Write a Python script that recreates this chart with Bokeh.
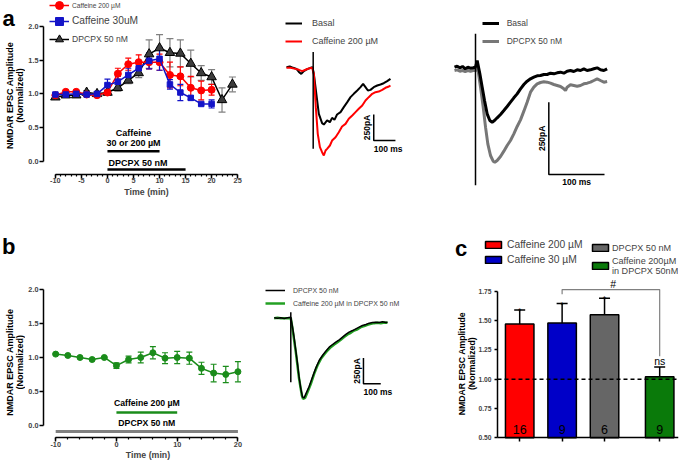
import numpy as np
from bokeh.plotting import figure
from bokeh.models import (ColumnDataSource, Whisker, TeeHead, Legend, LegendItem,
                          FixedTicker, PrintfTickFormatter)
from bokeh.layouts import row, column
from bokeh.embed import file_html
from bokeh.resources import INLINE
from bokeh.core.properties import value

FONT = "Liberation Sans"

# ---------------- panel a : time course ----------------
time_a = [-10, -8, -6, -4, -2, 0, 2, 4, 6, 8, 10, 12, 14, 16, 18, 20]
caf200_mean = [0.98, 1.03, 1.03, 0.99, 0.98, 1.02, 1.30, 1.44, 1.47, 1.47, 1.47, 1.28, 1.26, 1.09, 1.05, 1.06]
caf200_sem = [0.02, 0.02, 0.02, 0.02, 0.02, 0.03, 0.08, 0.09, 0.11, 0.10, 0.12, 0.19, 0.14, 0.17, 0.14, 0.08]
caf30_mean = [0.99, 0.99, 1.00, 0.99, 1.00, 1.13, 1.18, 1.28, 1.38, 1.49, 1.52, 1.14, 1.02, 0.94, 0.85, 0.85]
caf30_sem = [0.02, 0.02, 0.02, 0.02, 0.02, 0.09, 0.08, 0.10, 0.10, 0.12, 0.17, 0.07, 0.12, 0.03, 0.02, 0.06]
time_dpcpx = [-10, -8, -6, -4, -2, 0, 2, 4, 6, 8, 10, 12, 14, 16, 18, 20, 22, 24]
dpcpx_mean = [0.95, 0.98, 0.98, 1.02, 1.00, 1.02, 1.09, 1.20, 1.31, 1.59, 1.68, 1.61, 1.60, 1.45, 1.31, 1.25, 0.91, 1.14]
dpcpx_sem = [0.03, 0.03, 0.03, 0.03, 0.03, 0.04, 0.05, 0.05, 0.07, 0.21, 0.20, 0.21, 0.20, 0.20, 0.11, 0.11, 0.18, 0.11]
caffeine_window_a = [0, 10]
dpcpx_window_a = [0, 15]

# ---------------- panel a : example traces (ms, pA) ----------------
trA1_basal_t = [-123, -108, -92, -77, -65, -55, -43, -28, -12, -3, 3, 26, 41, 49, 64, 77, 87, 98, 110, 126,
                141, 157, 172, 187, 203, 218, 230, 241, 252, 264, 279, 295, 310, 325, 341, 356]
trA1_basal_i = [0, 7, -6, -16, -48, -64, -38, -19, -6, 0, -64, -448, -538, -551, -512, -529, -487, -506, -455, -432,
                -384, -336, -288, -256, -224, -192, -160, -192, -224, -218, -192, -176, -166, -154, -134, -112]
trA1_caf_t = [-123, -105, -82, -66, -51, -35, -20, -5, 3, 12, 21, 31, 41, 49, 57, 64, 77, 87, 103, 118,
              133, 149, 164, 180, 195, 210, 226, 241, 256, 272, 287, 302, 318, 333, 349, 356]
trA1_caf_i = [-6, -6, -16, -25, -38, -25, -13, -6, -64, -384, -641, -769, -817, -849, -801, -785, -753, -705, -673, -625,
              -570, -545, -496, -464, -432, -400, -368, -320, -288, -256, -240, -234, -218, -198, -186, -176]
trA1_artifact_i = [145, -785]

trA2_basal_t = [-37.7, -32.9, -28.1, -23.3, -18.5, -13.8, -9.0, -4.2, 0, 3.0, 7.8, 12.0, 16.2, 20.9, 25.7, 29.9,
                34.1, 38.9, 44.9, 50.9, 56.8, 62.8, 68.8, 74.8, 80.8, 86.8, 92.7, 98.7, 104.7, 110.7, 116.7,
                122.7, 128.6, 134.6, 140.6, 146.6, 152.6, 158.6, 164.5, 170.5, 176.5, 182.5, 188.5, 194.5,
                200.4, 206.4, 212.4, 218.4, 224.4, 230.4, 236.3]
trA2_basal_i = [5.6, 9.1, 3.4, 8.0, 0, 5.6, 2.2, 3.4, 5.6, 28.7, -17.4, -63.5, -109.6, -155.7, -178.8, -184.6,
                -178.8, -169.5, -158.0, -144.2, -130.4, -115.4, -100.4, -86.6, -69.3, -54.3, -42.8, -34.7, -28.9,
                -24.3, -23.2, -19.7, -19.7, -15.1, -17.4, -13.9, -11.7, -15.1, -8.2, -5.9, -9.3, -3.6, -5.9, 0,
                -5.9, -3.6, 0, 3.4, -3.6, -5.9, 0]
trA2_dpcpx_t = [-37.7, -32.9, -28.1, -23.3, -18.5, -13.8, -9.0, -4.2, 0, 4.2, 9.0, 13.8, 18.0, 22.1, 26.9, 31.7,
                34.7, 38.9, 44.9, 50.9, 56.8, 62.8, 68.8, 74.8, 80.8, 86.8, 92.7, 98.7, 104.7, 110.7, 116.7,
                122.7, 128.6, 134.6, 140.6, 146.6, 152.6, 158.6, 161.6, 164.5, 170.5, 176.5, 182.5, 188.5,
                194.5, 200.4, 206.4, 212.4, 218.4, 224.4, 230.4, 236.3]
trA2_dpcpx_i = [-5.9, -3.6, -8.2, -5.9, -9.3, -5.9, -8.2, -5.9, -5.9, 0, -63.5, -132.7, -201.8, -259.5, -299.8,
                -319.4, -322.9, -317.1, -303.3, -284.8, -265.2, -247.9, -224.9, -199.5, -176.5, -146.5, -115.4,
                -80.8, -63.5, -52.0, -47.4, -45.1, -46.2, -49.7, -54.3, -57.7, -61.2, -69.3, -75.0, -63.5, -55.4,
                -57.7, -60.1, -57.7, -52.0, -49.7, -46.2, -40.5, -34.7, -40.5, -46.2, -43.9]
trA2_artifact_i = [121, -403]

# ---------------- panel b : time course ----------------
time_b = [-10, -8, -6, -4, -2, 0, 2, 4, 6, 8, 10, 12, 14, 16, 18, 20]
caf_in_dpcpx_mean = [1.05, 1.03, 1.00, 0.97, 1.00, 0.88, 0.97, 1.00, 1.07, 0.99, 1.00, 0.99, 0.84, 0.77, 0.75, 0.79]
caf_in_dpcpx_sem = [0.01, 0.01, 0.01, 0.01, 0.01, 0.04, 0.05, 0.08, 0.09, 0.08, 0.09, 0.09, 0.09, 0.13, 0.12, 0.15]
caffeine_window_b = [0, 10]
dpcpx_window_b = [-10, 20]

# ---------------- panel b : example traces ----------------
trB_dpcpx_t = [-96, -77, -58, -38, -19, 0, 10, 19, 29, 39, 48, 58, 68, 77, 87, 106, 125, 145, 164, 183,
               202, 222, 241, 260, 280, 299, 318, 337, 357, 376, 395, 414, 434, 453, 472, 491, 511, 530, 549, 559]
trB_dpcpx_i = [0, -4, 0, -7, 0, 6, -91, -188, -318, -448, -578, -691, -772, -779, -740, -668, -578, -487, -415, -367,
               -325, -286, -260, -237, -214, -188, -162, -140, -124, -107, -91, -75, -65, -52, -46, -43, -46, -39, -46, -43]
trB_caf_t = [-96, -77, -58, -38, -19, 0, 10, 29, 48, 64, 71, 83, 97, 116, 135, 154, 174, 193, 212, 231,
             251, 270, 289, 308, 328, 347, 366, 386, 405, 424, 443, 463, 482, 501, 520, 540, 559]
trB_caf_i = [-4, 0, -4, -4, -4, -4, -107, -334, -594, -756, -788, -779, -723, -642, -545, -464, -399, -357, -318, -286,
             -260, -237, -214, -188, -162, -146, -124, -111, -91, -81, -68, -59, -52, -49, -52, -46, -49]
trB_artifact_i = [55, -626]

# scale bars (ms, pA)
scale_ms = 100
scale_pa = 250

# ---------------- panel c : summary bars ----------------
bar_labels = ["Caffeine 200 \u00b5M", "Caffeine 30 \u00b5M", "DPCPX 50 nM", "Caffeine 200\u00b5M\nin DPCPX 50nM"]
bar_means = [1.47, 1.48, 1.55, 1.02]
bar_sem = [0.12, 0.165, 0.14, 0.085]
bar_n = ["16", "9", "6", "9"]
bar_sig = ["*", "*", "*", "ns"]
bar_colors = ["#ff0000", "#0000c8", "#666666", "#0a7a0a"]
group_pos = [1, 2, 3, 4.3]

Y_LABEL = ["NMDAR EPSC Amplitude", "(Normalized)"]

RED = "#ff0000"
BLUE = "#1414c8"
GREEN = "#1a8c1a"


def mk_fig(w, h, xr, yr, left=0, right=0, top=0, bottom=0, axes=True):
    opts = dict(width=w, height=h, x_range=xr, y_range=yr, output_backend="svg",
                toolbar_location=None, tools="", title=None,
                min_border_left=left, min_border_right=right,
                min_border_top=top, min_border_bottom=bottom)
    if not axes:
        opts["x_axis_location"] = None
        opts["y_axis_location"] = None
    p = figure(**opts)
    p.outline_line_color = None
    p.grid.visible = False
    p.background_fill_color = "white"
    p.border_fill_color = "white"
    return p


def style_axes(p, tick_size="7.3px", label_size="8.8px"):
    for ax in p.axis:
        ax.axis_line_width = 1.5
        ax.axis_line_color = "black"
        ax.major_tick_line_width = 1.5
        ax.minor_tick_line_width = 1.2
        ax.major_tick_in = 0
        ax.major_tick_out = 4
        ax.minor_tick_in = 0
        ax.minor_tick_out = 2
        ax.major_label_text_font = FONT
        ax.major_label_text_font_style = "bold"
        ax.major_label_text_font_size = tick_size
        ax.major_label_standoff = 1
        ax.axis_label_text_font = FONT
        ax.axis_label_text_font_style = "bold"
        ax.axis_label_text_font_size = label_size
        ax.axis_label_standoff = 0


def btext(p, x, y, txt, size, align="center", baseline="middle", bold=True, angle=0,
          x_offset=0, y_offset=0, color="black"):
    p.text(x=x, y=y, text=txt, text_font=value(FONT), text_font_size=size,
           text_font_style="bold" if bold else "normal", text_align=align,
           text_baseline=baseline, angle=angle, x_offset=x_offset, y_offset=y_offset,
           text_color=color)


def mk_legend(items, loc, size, gw, gh, lh, standoff, spacing=0):
    return Legend(items=items, location=loc, padding=0, margin=0, spacing=spacing,
                  glyph_width=gw, glyph_height=gh, label_height=lh, label_standoff=standoff,
                  label_text_font=FONT, label_text_font_size=size, border_line_color=None,
                  background_fill_alpha=0)


def series(p, t, m, s, color, marker, size, fill, err_color, cap=6):
    src = ColumnDataSource(dict(t=t, m=m, lo=[a - b for a, b in zip(m, s)],
                                hi=[a + b for a, b in zip(m, s)]))
    p.add_layout(Whisker(source=src, base="t", upper="hi", lower="lo", line_color=err_color,
                         line_width=1.2,
                         upper_head=TeeHead(size=cap, line_color=err_color, line_width=1.2),
                         lower_head=TeeHead(size=cap, line_color=err_color, line_width=1.2)))
    lr = p.line("t", "m", source=src, line_color=color, line_width=1.5)
    sr = p.scatter("t", "m", source=src, marker=marker, size=size, fill_color=fill,
                   line_color=color, line_width=1)
    return lr, sr


def side_labels(p, letter, letter_xy, label_x, label_y):
    """panel letter and the two-line y-axis title, in a narrow pixel-unit strip"""
    btext(p, [letter_xy[0]], [letter_xy[1]], [letter], "22px", baseline="alphabetic")
    btext(p, label_x, [label_y, label_y], Y_LABEL, "9px", angle=np.pi / 2)


# =============== top row: frames span y 0..199 of a 222 px row ===============
TOP_H, TOP_B = 222, 23

na = mk_fig(25, TOP_H, (0, 25), (199, 0), bottom=TOP_B, axes=False)
side_labels(na, "a", (8, 18.3), [9.2, 19.8], 95)

fa = mk_fig(235, TOP_H, (-12.283, 27.854), (-0.5687, 2.386), left=16, right=8, top=0, bottom=TOP_B)
style_axes(fa)
fa.xaxis.ticker = FixedTicker(ticks=list(range(-10, 26, 5)), minor_ticks=list(range(-10, 26)))
fa.xaxis.bounds = (-10, 25)
fa.xaxis.fixed_location = -0.1975
fa.xaxis.major_label_standoff = 0
fa.xaxis.formatter = PrintfTickFormatter(format="%d")
fa.xaxis.axis_label = "Time (min)"
fa.yaxis.ticker = FixedTicker(ticks=[0, 0.5, 1.0, 1.5, 2.0])
fa.yaxis.bounds = (0, 2)
fa.yaxis.formatter = PrintfTickFormatter(format="%.1f")

ld, sd = series(fa, time_dpcpx, dpcpx_mean, dpcpx_sem, "black", "triangle", 9.5, "#3c3c3c", "#808080", cap=7)
lr_, sr_ = series(fa, time_a, caf200_mean, caf200_sem, RED, "circle", 7, RED, RED)
lb, sb = series(fa, time_a, caf30_mean, caf30_sem, BLUE, "square", 5.5, BLUE, BLUE)

fa.line(x=caffeine_window_a, y=[0.1485, 0.1485], line_width=2.5, line_color="black")
fa.line(x=dpcpx_window_a, y=[-0.123, -0.123], line_width=2.5, line_color="black")
btext(fa, [5, 5], [0.4217, 0.267], ["Caffeine", "30 or 200 \u00b5M"], "9px")
btext(fa, [0.2], [-0.03], ["DPCPX 50 nM"], "9px", align="left")

fa.add_layout(mk_legend([LegendItem(label="Caffeine 200 \u00b5M", renderers=[lr_, sr_])],
                        (6, 184), "6.6px", 20, 20, 20, 3))
fa.add_layout(mk_legend([LegendItem(label="Caffeine 30uM", renderers=[lb, sb])],
                        (6, 168.3), "10.2px", 20, 20, 20, 3))
fa.add_layout(mk_legend([LegendItem(label="DPCPX 50 nM", renderers=[ld, sd])],
                        (6, 149.7), "8.6px", 20, 20, 20, 3))

# ---- trace 1 ----
fa1 = mk_fig(170, TOP_H, (-242.8, 540.5), (-1272.0, 641.3), bottom=TOP_B, axes=False)
a1_black = fa1.line(trA1_basal_t, trA1_basal_i, line_color="black", line_width=2)
a1_red = fa1.line(trA1_caf_t, trA1_caf_i, line_color=RED, line_width=2)
fa1.line([0, 0], trA1_artifact_i, line_color="black", line_width=1.5)
sbx, sby = 279, -705
fa1.line([sbx, sbx, sbx + scale_ms], [sby + scale_pa, sby, sby], line_color="black", line_width=1.5)
btext(fa1, [sbx], [sby + scale_pa / 2], ["250pA"], "8.5px", baseline="bottom", angle=np.pi / 2, x_offset=-2)
btext(fa1, [sbx], [sby], ["100 ms"], "8.5px", align="left", baseline="top", y_offset=3)
fa1.add_layout(mk_legend([LegendItem(label="Basal", renderers=[a1_black]),
                          LegendItem(label="Caffeine 200 \u00b5M", renderers=[a1_red])],
                         (25, 151.3), "9px", 17, 14, 14, 10, spacing=4))

# ---- trace 2 ----
fa2 = mk_fig(254, TOP_H, (-80.8, 375.2), (-452.0, 236.2), bottom=TOP_B, axes=False)
a2_gray = fa2.line(trA2_dpcpx_t, trA2_dpcpx_i, line_color="#777777", line_width=3)
a2_black = fa2.line(trA2_basal_t, trA2_basal_i, line_color="black", line_width=3)
fa2.line([0, 0], trA2_artifact_i, line_color="black", line_width=1.5)
sbx2, sby2 = 131.6, -365.5
fa2.line([sbx2, sbx2, sbx2 + scale_ms], [sby2 + scale_pa, sby2, sby2], line_color="black", line_width=1.5)
btext(fa2, [sbx2], [sby2 + scale_pa / 2], ["250pA"], "8.5px", baseline="bottom", angle=np.pi / 2, x_offset=-2)
btext(fa2, [sbx2 + scale_ms / 2], [sby2], ["100 ms"], "8.5px", baseline="top", y_offset=3)
fa2.add_layout(mk_legend([LegendItem(label="Basal", renderers=[a2_black]),
                          LegendItem(label="DPCPX 50 nM", renderers=[a2_gray])],
                         (51.7, 151.3), "8.5px", 17, 14, 14, 8, spacing=4))

# =============== bottom row: frames span 0..215 of a 240 px row ===============
BOT_H, BOT_B = 240, 25

nb = mk_fig(25, BOT_H, (0, 25), (215, 0), bottom=BOT_B, axes=False)
side_labels(nb, "b", (8.3, 24), [9.2, 19.8], 139.7)

fb = mk_fig(235, BOT_H, (-12.006, 22.398), (-0.1817, 2.994), left=16, right=8, top=0, bottom=BOT_B)
style_axes(fb)
fb.xaxis.major_label_standoff = 0
fb.xaxis.ticker = FixedTicker(ticks=[-10, 0, 10, 20], minor_ticks=list(range(-10, 21, 2)))
fb.xaxis.bounds = (-10, 20)
fb.xaxis.formatter = PrintfTickFormatter(format="%d")
fb.xaxis.axis_label = "Time (min)"
fb.yaxis.ticker = FixedTicker(ticks=[0, 0.5, 1.0, 1.5, 2.0])
fb.yaxis.bounds = (0, 2)
fb.yaxis.formatter = PrintfTickFormatter(format="%.1f")
series(fb, time_b, caf_in_dpcpx_mean, caf_in_dpcpx_sem, GREEN, "circle", 6, GREEN, GREEN)
fb.line(x=caffeine_window_b, y=[0.1876, 0.1876], line_width=2.5, line_color=GREEN)
fb.line(x=dpcpx_window_b, y=[-0.093, -0.093], line_width=3, line_color="#808080")
btext(fb, [5], [0.331], ["Caffeine 200 \u00b5M"], "8.7px")
btext(fb, [5], [0.0295], ["DPCPX 50 nM"], "8.7px")

# ---- traces b ----
fbt = mk_fig(170, BOT_H, (-175.1, 807.5), (-1164.4, 927.1), bottom=BOT_B, axes=False)
b_green = fbt.line(trB_caf_t, trB_caf_i, line_color="#23a023", line_width=2.5)
b_black = fbt.line(trB_dpcpx_t, trB_dpcpx_i, line_color="black", line_width=1.5)
fbt.line([0, 0], trB_artifact_i, line_color="black", line_width=1.5)
sbx3, sby3 = 420, -642
fbt.line([sbx3, sbx3, sbx3 + scale_ms], [sby3 + scale_pa, sby3, sby3], line_color="black", line_width=1.5)
btext(fbt, [sbx3], [sby3 + scale_pa / 2], ["250pA"], "8.5px", baseline="bottom", angle=np.pi / 2, x_offset=-1)
btext(fbt, [sbx3], [sby3], ["100 ms"], "8.5px", align="left", baseline="top", y_offset=3)
fbt.add_layout(mk_legend([LegendItem(label="DPCPX 50 nM", renderers=[b_black]),
                          LegendItem(label="Caffeine 200 \u00b5M in DPCPX 50 nM", renderers=[b_green])],
                         (5, 128), "7px", 20, 12, 12, 8, spacing=1))

# ---- bars c (its own column, both axes drawn at fixed places inside a wider frame) ----
C_AXIS_X = 0.4767
C_RIGHT = 4.7436
C_FRAME_BOTTOM = 226   # frame spans rows 0..226 of the 240 px figure
fc = mk_fig(254, BOT_H, (-0.6313, C_RIGHT), (0.4086, 2.337), left=20, right=6, top=0,
            bottom=BOT_H - C_FRAME_BOTTOM)
style_axes(fc, "6.7px", "8.7px")
fc.xaxis.ticker = FixedTicker(ticks=group_pos)
fc.xaxis.major_label_text_color = None
fc.xaxis.minor_tick_out = 0
fc.xaxis.bounds = (C_AXIS_X, C_RIGHT)
fc.xaxis.fixed_location = 0.5
fc.yaxis.fixed_location = C_AXIS_X
fc.yaxis.ticker = FixedTicker(ticks=[0.5, 0.75, 1.0, 1.25, 1.5, 1.75])
fc.yaxis.bounds = (0.5, 1.75)
fc.yaxis.formatter = PrintfTickFormatter(format="%.2f")
fc.yaxis.major_tick_out = 3
fc.yaxis.minor_tick_out = 0
fc.yaxis.major_label_standoff = 3

bar_hi = [m + s for m, s in zip(bar_means, bar_sem)]
csrc = ColumnDataSource(dict(x=group_pos, top=bar_means, color=bar_colors, hi=bar_hi, n=bar_n))
fc.add_layout(Whisker(source=csrc, base="x", upper="hi", lower="top", line_color="black", line_width=1.5,
                      upper_head=TeeHead(size=11, line_color="black", line_width=1.5), lower_head=None,
                      level="glyph"))
bars = fc.vbar(x="x", top="top", bottom=0.5, width=0.672, source=csrc, fill_color="color",
               line_color="black", line_width=1.5)
fc.line(x=[C_AXIS_X, C_RIGHT], y=[1.0, 1.0], line_dash="4 3", line_width=1.5, line_color="black")
fc.text(x="x", y=0.568, text="n", source=csrc, text_font=value(FONT), text_font_size="12.5px",
        text_align="center", text_baseline="middle")
star_idx = [i for i, s in enumerate(bar_sig) if s == "*"]
fc.text(x=[group_pos[i] for i in star_idx], y=[bar_hi[i] for i in star_idx], text=["*"] * len(star_idx),
        text_font=value(FONT), text_font_size="9px", text_align="center", text_baseline="alphabetic",
        y_offset=1)
fc.line(x=[group_pos[1], group_pos[1], group_pos[3], group_pos[3]], y=[1.724, 1.7645, 1.7645, 1.195],
        line_color="#808080", line_width=1.2)
btext(fc, [3.204], [1.816], ["#"], "10.5px", bold=False)
btext(fc, [group_pos[3]], [1.152], [bar_sig[3]], "10.5px", bold=False)
# panel letter and y-axis title (inside the widened frame, left of the axis)
btext(fc, [-0.3838], [2.115], ["c"], "22px", baseline="alphabetic")
btext(fc, [-0.3555, -0.1198], [1.132, 1.132], Y_LABEL, "8.7px", angle=np.pi / 2)

fc.add_layout(mk_legend([LegendItem(label=bar_labels[0], renderers=[bars], index=0),
                         LegendItem(label=bar_labels[1], renderers=[bars], index=1)],
                        (33, 181.7), "10.3px", 20, 9, 14, 4, spacing=1))
fc.add_layout(mk_legend([LegendItem(label=bar_labels[2], renderers=[bars], index=2),
                         LegendItem(label=bar_labels[3], renderers=[bars], index=3)],
                        (140, 172.2), "9.1px", 20, 9, 14, 2, spacing=1))

layout = column(row(na, fa, fa1, fa2), row(nb, fb, fbt, column(fc)))
open("out.html", "w").write(file_html(layout, INLINE))
